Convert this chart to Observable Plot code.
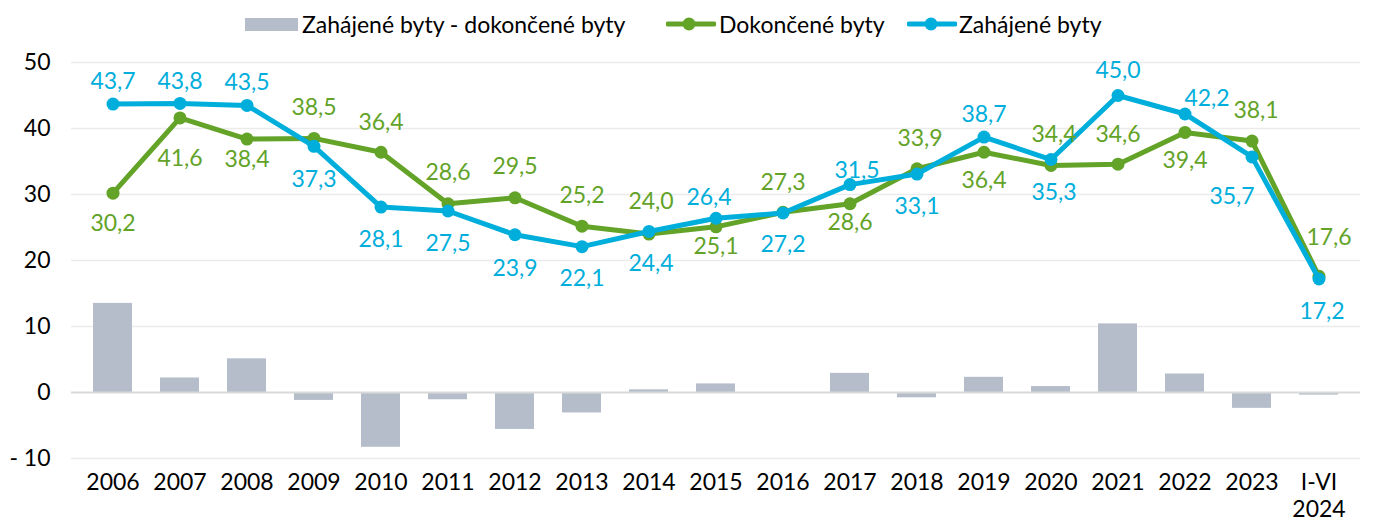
<!DOCTYPE html>
<html>
<head>
<meta charset="utf-8">
<script src="https://cdn.jsdelivr.net/npm/d3@7"></script>
<script src="https://cdn.jsdelivr.net/npm/@observablehq/plot@0.6"></script>
<style>
  body { margin: 0; background: #fff; font-family: Lato, "Liberation Sans", sans-serif; }
  #wrap { width: 1375px; position: relative; }
  #legend { position: relative; height: 48px; font-size: 23px; color: #000; }
  .li { position: absolute; top: 0; height: 48px; display: flex; align-items: center; }
</style>
</head>
<body>
<div id="wrap">
  <div id="legend"></div>
  <div id="chart"></div>
</div>
<script>
// ---- data ----
const categories = ["2006","2007","2008","2009","2010","2011","2012","2013","2014","2015","2016","2017","2018","2019","2020","2021","2022","2023","I-VI 2024"];
const completed = [30.2, 41.6, 38.4, 38.5, 36.4, 28.6, 29.5, 25.2, 24.0, 25.1, 27.3, 28.6, 33.9, 36.4, 34.4, 34.6, 39.4, 38.1, 17.6];
const started   = [43.7, 43.8, 43.5, 37.3, 28.1, 27.5, 23.9, 22.1, 24.4, 26.4, 27.2, 31.5, 33.1, 38.7, 35.3, 45.0, 42.2, 35.7, 17.2];
const difference = [13.5, 2.2, 5.1, -1.2, -8.3, -1.1, -5.6, -3.1, 0.4, 1.3, -0.1, 2.9, -0.8, 2.3, 0.9, 10.4, 2.8, -2.4, -0.4];
const yTicks = [-10, 0, 10, 20, 30, 40, 50];
const seriesNames = ["Zahájené byty - dokončené byty", "Dokončené byty", "Zahájené byty"];

// ---- label layout (offsets in px, separate from values) ----
const completedLabelDy = [30, 41, 21, -31, -30, -31, -31, -31, -32, 20, -30, 19, -30, 28, -31, -30, 28, -30, -39];
const completedLabelDx = [0, 0, 0, 0, 0, 0, 0, 0, 2, 0, 0, 0, 3, 0, 3, 0, 0, 4, 10];
const startedLabelDy   = [-22, -22, -23, 33, 33, 33, 34, 32, 32, -21, 32, -14, 33, -22, 33, -25, -15, 40, 33];
const startedLabelDx   = [0, 0, 0, 0, 0, 0, 0, 0, 2, -7, 0, 7, 0, 0, 3, 0, 22, -20, 3];

const BLUE = "#00AEDB", GREEN = "#62A328", GRAY = "#B5BCCA";
const fmt = v => v.toFixed(1).replace(".", ",");

const rows = categories.map((c, i) => ({
  cat: c, completed: completed[i], started: started[i], diff: difference[i],
  cdx: completedLabelDx[i], cdy: completedLabelDy[i], sdx: startedLabelDx[i], sdy: startedLabelDy[i]
}));

// ---- legend ----
const legend = document.getElementById("legend");
legend.innerHTML = `
  <div class="li" style="left:245px"><div style="width:53px;height:13px;background:${GRAY};margin-right:4px"></div><span>${seriesNames[0]}</span></div>
  <div class="li" style="left:666px"><svg width="50" height="14" style="margin-right:3px"><line x1="2" y1="7" x2="48" y2="7" stroke="${GREEN}" stroke-width="5" stroke-linecap="round"/><circle cx="23" cy="7" r="6.5" fill="${GREEN}"/></svg><span>${seriesNames[1]}</span></div>
  <div class="li" style="left:907px"><svg width="50" height="14" style="margin-right:2px"><line x1="2" y1="7" x2="48" y2="7" stroke="${BLUE}" stroke-width="5" stroke-linecap="round"/><circle cx="24" cy="7" r="6.5" fill="${BLUE}"/></svg><span>${seriesNames[2]}</span></div>
`;

// ---- chart ----
const textOpts = {fontSize: 23};
const chart = Plot.plot({
  width: 1375,
  height: 477,
  marginTop: 14,
  marginBottom: 67,
  marginLeft: 71,
  marginRight: 15,
  style: {fontFamily: "Lato, 'Liberation Sans', sans-serif", fontSize: "23px", color: "#000", background: "#fff"},
  x: {type: "band", domain: categories, paddingInner: 0.42, paddingOuter: 0.21, label: null},
  y: {domain: [-10, 50], label: null},
  marks: [
    Plot.ruleY(yTicks.filter(t => t !== 0), {stroke: "#EBEBEB", strokeWidth: 1.5}),
    Plot.barY(rows, {x: "cat", y: "diff", fill: GRAY}),
    Plot.ruleY([0], {stroke: "#D9D9D9", strokeWidth: 2}),
    Plot.axisY({ticks: yTicks, tickSize: 0, tickPadding: 21, fontSize: 23,
      tickFormat: d => d < 0 ? "- " + Math.abs(d) : String(d)}),
    Plot.axisX({tickSize: 0, tickPadding: 13, fontSize: 23, lineHeight: 1.15,
      tickFormat: d => d.replace(" ", "\n")}),
    Plot.line(rows, {x: "cat", y: "completed", stroke: GREEN, strokeWidth: 5, strokeLinejoin: "round"}),
    Plot.dot(rows, {x: "cat", y: "completed", fill: GREEN, r: 6.5}),
    Plot.line(rows, {x: "cat", y: "started", stroke: BLUE, strokeWidth: 5, strokeLinejoin: "round"}),
    Plot.dot(rows, {x: "cat", y: "started", fill: BLUE, r: 6.5}),
    ...rows.map(r => Plot.text([r], {x: "cat", y: "completed", text: d => fmt(d.completed), fill: GREEN, dx: r.cdx, dy: r.cdy, ...textOpts})),
    ...rows.map(r => Plot.text([r], {x: "cat", y: "started", text: d => fmt(d.started), fill: BLUE, dx: r.sdx, dy: r.sdy, ...textOpts}))
  ]
});
document.getElementById("chart").appendChild(chart);
</script>
</body>
</html>
